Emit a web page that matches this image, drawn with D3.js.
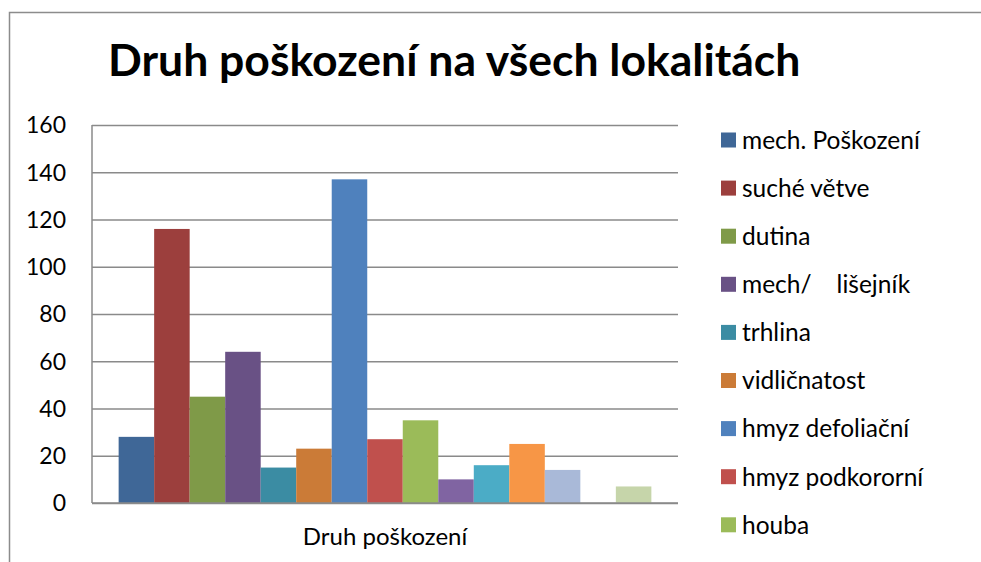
<!DOCTYPE html>
<html>
<head>
<meta charset="utf-8">
<script src="https://cdn.jsdelivr.net/npm/d3@7"></script>
<style>
  body { margin: 0; background: #fff; }
  text { font-family: Lato, "Open Sans", sans-serif; fill: #000; }
</style>
</head>
<body>
<div id="chart"></div>
<script>
// data
const categories = ["Druh poškození"];
const seriesNames = ["mech. Poškození", "suché větve", "dutina", "mech/    lišejník", "trhlina",
                     "vidličnatost", "hmyz defoliační", "hmyz podkororní", "houba",
                     null, null, null, null, null, null]; // last legend entries are cut off
const seriesValues = [28, 116, 45, 64, 15, 23, 137, 27, 35, 10, 16, 25, 14, 0, 7];
const seriesColors = ["#3F6797", "#9C3F3D", "#7F9A48", "#695185", "#3B8CA3", "#CB7B37",
                      "#4F81BD", "#C0504D", "#9BBB59", "#8064A2", "#4BACC6", "#F79646",
                      "#A9B9D8", "#D9A9A8", "#C6D5AA"];
const yTicks = [0, 20, 40, 60, 80, 100, 120, 140, 160];
const chartTitle = "Druh poškození na všech lokalitách";

const W = 981, H = 562;
const plot = {left: 92, right: 678, top: 125, bottom: 503};
const gapWidth = 1.5;

const svg = d3.select("#chart").append("svg")
    .attr("width", W)
    .attr("height", H);

// chart frame (cut at right and bottom)
svg.append("rect")
    .attr("x", 9.5).attr("y", 12.5)
    .attr("width", W + 20).attr("height", H + 20)
    .attr("fill", "#fff")
    .attr("stroke", "#8c8c8c")
    .attr("stroke-width", 1.5);

let yScale = d3.scaleLinear()
    .domain([0, 160])
    .range([plot.bottom, plot.top]);

let x0 = d3.scaleBand()
    .domain(categories)
    .range([plot.left, plot.right])
    .paddingInner(0)
    .paddingOuter(gapWidth / 2 / seriesValues.length);

let x1 = d3.scaleBand()
    .domain(d3.range(seriesValues.length))
    .range([0, x0.bandwidth()]);

// gridlines
svg.append("g")
    .attr("transform", `translate(${plot.left},0)`)
    .call(d3.axisLeft(yScale).tickValues(yTicks).tickSize(-(plot.right - plot.left)).tickFormat(""))
    .call(g => g.select(".domain").remove())
    .selectAll("line")
    .attr("stroke", "#8a8a8a")
    .attr("stroke-width", 1.5);

// bars
svg.append("g")
    .selectAll("rect")
    .data(seriesValues)
    .enter()
    .append("rect")
    .attr("x", (d, i) => x0(categories[0]) + x1(i))
    .attr("y", d => yScale(d))
    .attr("width", x1.bandwidth())
    .attr("height", d => yScale(0) - yScale(d))
    .attr("fill", (d, i) => seriesColors[i]);

// axis lines
svg.append("line")
    .attr("x1", plot.left).attr("x2", plot.left)
    .attr("y1", plot.top).attr("y2", plot.bottom)
    .attr("stroke", "#8a8a8a")
    .attr("stroke-width", 1.5);
svg.append("line")
    .attr("x1", plot.left).attr("x2", plot.right)
    .attr("y1", plot.bottom).attr("y2", plot.bottom)
    .attr("stroke", "#8a8a8a")
    .attr("stroke-width", 1.5);

// y tick labels
svg.append("g")
    .selectAll("text")
    .data(yTicks)
    .enter()
    .append("text")
    .attr("x", 66)
    .attr("y", d => yScale(d))
    .attr("dy", "0.36em")
    .attr("text-anchor", "end")
    .attr("font-size", "23px")
    .text(d => d);

// category label
svg.append("text")
    .attr("x", x0(categories[0]) + x0.bandwidth() / 2)
    .attr("y", 545)
    .attr("text-anchor", "middle")
    .attr("font-size", "24px")
    .text(categories[0]);

// title
svg.append("text")
    .attr("x", 108)
    .attr("y", 76)
    .attr("font-size", "44.5px")
    .attr("font-weight", "bold")
    .text(chartTitle);

// legend
let legendItems = seriesNames
    .map((name, i) => ({name: name, color: seriesColors[i]}))
    .filter(d => d.name !== null);

let legend = svg.append("g")
    .selectAll("g")
    .data(legendItems)
    .enter()
    .append("g")
    .attr("transform", (d, i) => `translate(721,${140 + i * 48.1})`);
legend.append("rect")
    .attr("x", 0).attr("y", -7.5)
    .attr("width", 15).attr("height", 15)
    .attr("fill", d => d.color);
legend.append("text")
    .attr("x", 21)
    .attr("y", 0)
    .attr("dy", "0.36em")
    .attr("font-size", "24.5px")
    .style("white-space", "pre")
    .text(d => d.name);
</script>
</body>
</html>
